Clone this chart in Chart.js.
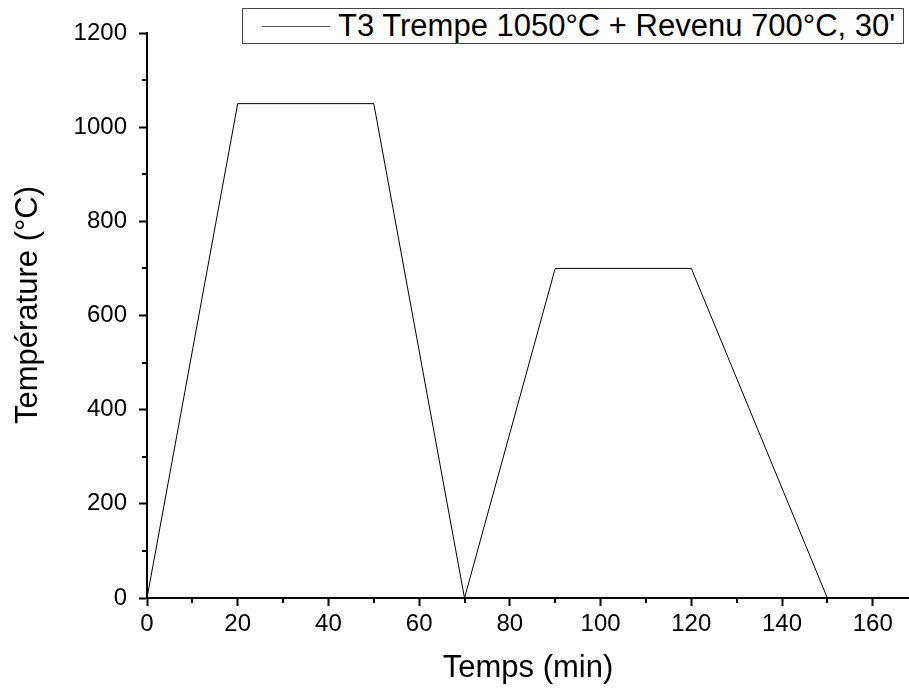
<!DOCTYPE html>
<html>
<head>
<meta charset="utf-8">
<script src="https://cdn.jsdelivr.net/npm/chart.js@4"></script>
<style>
  body { margin: 0; background: #fff; }
  #wrap { position: relative; width: 909px; height: 691px; }
  .legend {
    position: absolute; left: 242px; top: 8px; width: 662px; height: 36px;
    border: 1px solid #444; background: #fff; box-sizing: border-box;
    font-family: "Liberation Sans", Arial, sans-serif; font-size: 31px; color: #000;
    display: flex; align-items: center; white-space: nowrap;
  }
  .legend .swatch { display: inline-block; width: 68px; height: 0; border-top: 1px solid #555; margin: 0 8px 0 19px; }
  .ytitle {
    position: absolute; left: 27px; top: 305px; transform: translate(-50%, -50%) rotate(-90deg);
    font-family: "Liberation Sans", Arial, sans-serif; font-size: 31px; color: #000; white-space: nowrap;
  }
</style>
</head>
<body>
<div id="wrap">
  <canvas id="chart" width="909" height="691"></canvas>
  <div class="legend"><span class="swatch"></span><span id="legendText"></span></div>
  <div class="ytitle">Température (°C)</div>
</div>
<script>
// Heat treatment cycle data
const seriesName = "T3 Trempe 1050°C + Revenu 700°C, 30'";
const timeMin = [0, 20, 50, 70, 90, 120, 150];
const temperature = [0, 1050, 1050, 0, 700, 700, 0];
const xTickLabels = [0, 20, 40, 60, 80, 100, 120, 140, 160];
const yTickLabels = [0, 200, 400, 600, 800, 1000, 1200];

document.getElementById("legendText").textContent = seriesName;

const font = "'Liberation Sans', Arial, sans-serif";

// minor ticks between the labelled ones
const minorTicks = {
  id: "minorTicks",
  afterDraw(chart) {
    const ctx = chart.ctx;
    const xs = chart.scales.x;
    const ys = chart.scales.y;
    ctx.save();
    ctx.strokeStyle = "#000";
    ctx.lineWidth = 2;
    ctx.beginPath();
    for (let v = 10; v < xs.max; v += 20) {
      const px = Math.round(xs.getPixelForValue(v));
      ctx.moveTo(px, ys.bottom);
      ctx.lineTo(px, ys.bottom + 5);
    }
    for (let v = 100; v < ys.max; v += 200) {
      const py = Math.round(ys.getPixelForValue(v));
      ctx.moveTo(xs.left, py);
      ctx.lineTo(xs.left - 5, py);
    }
    ctx.stroke();
    ctx.restore();
  },
};

const ctx = document.getElementById("chart").getContext("2d");
const chart = new Chart(ctx, {
  type: "line",
  data: {
    datasets: [
      {
        label: seriesName,
        data: timeMin.map((t, i) => ({ x: t, y: temperature[i] })),
        borderColor: "#000",
        borderWidth: 1,
        pointRadius: 0,
        tension: 0,
        fill: false,
      },
    ],
  },
  options: {
    responsive: false,
    animation: false,
    layout: { padding: { top: 33, right: 0, left: 0, bottom: 0 } },
    plugins: {
      legend: { display: false },
      tooltip: { enabled: false },
    },
    scales: {
      x: {
        type: "linear",
        min: 0,
        max: 168,
        afterFit(scale) { scale.height = 93; },
        afterBuildTicks(scale) { scale.ticks = xTickLabels.map((v) => ({ value: v })); },
        ticks: {
          color: "#000",
          font: { family: font, size: 24 },
          padding: 4,
          maxRotation: 0,
          callback: (v) => String(v),
        },
        grid: { drawOnChartArea: false, drawTicks: true, tickLength: 8, tickColor: "#000", tickWidth: 2 },
        border: { display: true, color: "#000", width: 2 },
        title: {
          display: true,
          text: "Temps (min)",
          color: "#000",
          font: { family: font, size: 31 },
          padding: { top: 0, bottom: 4 },
        },
      },
      y: {
        min: 0,
        max: 1200,
        afterFit(scale) { scale.width = 147; },
        afterBuildTicks(scale) { scale.ticks = yTickLabels.map((v) => ({ value: v })); },
        ticks: {
          color: "#000",
          font: { family: font, size: 24 },
          padding: 12,
          callback: (v) => String(v),
        },
        grid: { drawOnChartArea: false, drawTicks: true, tickLength: 8, tickColor: "#000", tickWidth: 2 },
        border: { display: true, color: "#000", width: 2 },
      },
    },
  },
  plugins: [minorTicks],
});
</script>
</body>
</html>
